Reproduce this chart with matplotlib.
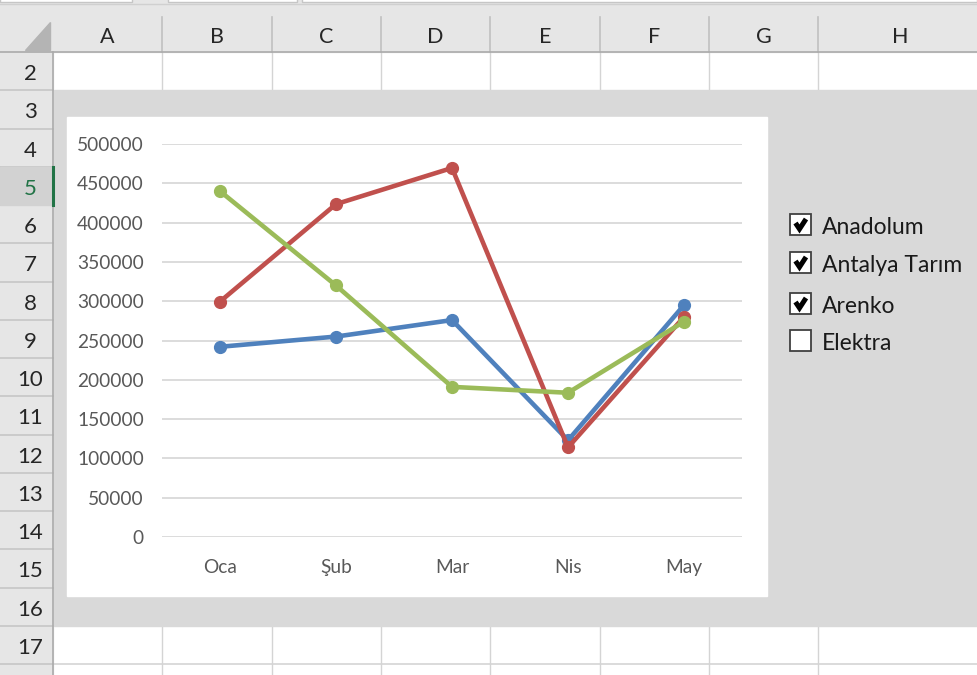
import matplotlib.pyplot as plt
from matplotlib.patches import Rectangle
import numpy as np

plt.rcParams['font.family'] = ['Lato', 'DejaVu Sans']

months = ["Oca", "Şub", "Mar", "Nis", "May"]
anadolum = [242000, 255000, 276000, 123000, 295000]
antalya = [299500, 423500, 469500, 114000, 280000]
arenko = [440000, 320000, 191000, 183500, 274000]
yticks = [0, 50000, 100000, 150000, 200000, 250000, 300000, 350000, 400000, 450000, 500000]

col_letters = ["A", "B", "C", "D", "E", "F", "G", "H"]
row_numbers = list(range(2, 18))
legend_names = ["Anadolum", "Antalya Tarım", "Arenko", "Elektra"]
legend_checked = [True, True, True, False]

W, H = 977, 675
fig = plt.figure(figsize=(W / 100, H / 100), dpi=100)

# spreadsheet background in pixel coords
bg = fig.add_axes([0, 0, 1, 1])
bg.set_xlim(0, W)
bg.set_ylim(H, 0)
bg.axis("off")

hdr = "#e6e6e6"
cell_line = "#d4d4d4"
col_edges = [53, 162, 272, 381, 490, 600, 709, 818, 1100]
row_edges = [52 + 38.25 * i for i in range(17)]

bg.add_patch(Rectangle((0, 0), W, H, color="white", zorder=0))
# top strip + column header
bg.add_patch(Rectangle((0, 0), W, 52, color=hdr, zorder=1))
for x0, x1 in [(0, 132), (168, 297), (302, 977)]:
    bg.add_patch(Rectangle((x0, -2), x1 - x0, 4, facecolor="white", edgecolor="#c6c6c6", lw=1, zorder=2))
bg.plot([0, W], [3.5, 3.5], color="#d0d0d0", lw=1, zorder=2)
# corner triangle
bg.fill([50, 50, 25], [22, 50, 50], color="#b4b4b4", zorder=2)
for x in col_edges[1:-1]:
    bg.plot([x, x], [17, 52], color="#c0c0c0", lw=1.2, zorder=2)
for i, letter in enumerate(col_letters):
    xc = (col_edges[i] + col_edges[i + 1]) / 2
    if letter == "H":
        xc = 900
    bg.text(xc, 37, letter, ha="center", va="center", fontsize=15.5, color="#262626", zorder=3)
bg.plot([0, W], [52, 52], color="#ababab", lw=1.2, zorder=4)

# row header
bg.add_patch(Rectangle((0, 52), 53, H - 52, color=hdr, zorder=1))
for y in row_edges[1:]:
    bg.plot([0, 53], [y, y], color="#c6c6c6", lw=1.2, zorder=2)
for i, r in enumerate(row_numbers):
    y0, y1 = row_edges[i], row_edges[i + 1] if i + 1 < len(row_edges) else H
    yc = (y0 + y1) / 2
    color = "#262626"
    if r == 5:
        bg.add_patch(Rectangle((0, y0), 53, y1 - y0, color="#d2d2d2", zorder=2))
        bg.plot([52.5, 52.5], [y0, y1], color="#217346", lw=2.2, zorder=4)
        color = "#217346"
    bg.text(30, yc + 3, str(r), ha="center", va="center", fontsize=16, color=color, zorder=3)
bg.plot([53, 53], [52, H], color="#ababab", lw=1.2, zorder=3)

# white cell gridlines (rows 2 and 17)
for x in col_edges[1:-1]:
    bg.plot([x, x], [52, row_edges[1]], color=cell_line, lw=1, zorder=1)
    bg.plot([x, x], [row_edges[15], H], color=cell_line, lw=1, zorder=1)
bg.plot([53, W], [row_edges[16], row_edges[16]], color=cell_line, lw=1.2, zorder=1)

# grey chart object area and white chart area
bg.add_patch(Rectangle((53.5, row_edges[1]), W - 53.5, row_edges[15] - row_edges[1], color="#d9d9d9", zorder=2))
bg.add_patch(Rectangle((67, 117), 700, 479, color="white", zorder=3))

# check boxes
box_y = [224, 262, 303, 340]
for name, checked, yc in zip(legend_names, legend_checked, box_y):
    bg.add_patch(Rectangle((790, yc - 10.5), 21, 21, facecolor="white", edgecolor="#404040", lw=1.3, zorder=4))
    if checked:
        bg.plot([795.5, 799.5, 806], [yc - 1, yc + 5, yc - 5], color="black", lw=3.6,
                solid_capstyle="butt", solid_joinstyle="miter", zorder=5)
    bg.text(822, yc + 3.5, name, ha="left", va="center", fontsize=16.5, color="#1a1a1a", zorder=5)

# the line chart
ax = fig.add_axes([162 / W, 1 - 537 / H, 580 / W, 393 / H])
ax.set_zorder(5)
ax.patch.set_alpha(0)
x = np.arange(len(months))
for vals, col in [(anadolum, "#4f81bd"), (antalya, "#c0504d"), (arenko, "#9bbb59")]:
    ax.plot(x, vals, color=col, lw=3.3, marker="o", markersize=8.5, solid_capstyle="round")
ax.set_xlim(-0.5, len(months) - 0.5)
ax.set_ylim(0, 500000)
ax.set_yticks(yticks)
ax.set_yticklabels([str(v) for v in yticks])
ax.set_xticks(x)
ax.set_xticklabels(months)
ax.grid(axis="y", color="#d9d9d9", lw=1.3)
ax.set_axisbelow(True)
for s in ax.spines.values():
    s.set_visible(False)
ax.tick_params(axis="both", length=0, labelsize=13.8, labelcolor="#595959")
ax.tick_params(axis="y", pad=13)
ax.tick_params(axis="x", pad=16)

fig.savefig("out.png", dpi=100)
